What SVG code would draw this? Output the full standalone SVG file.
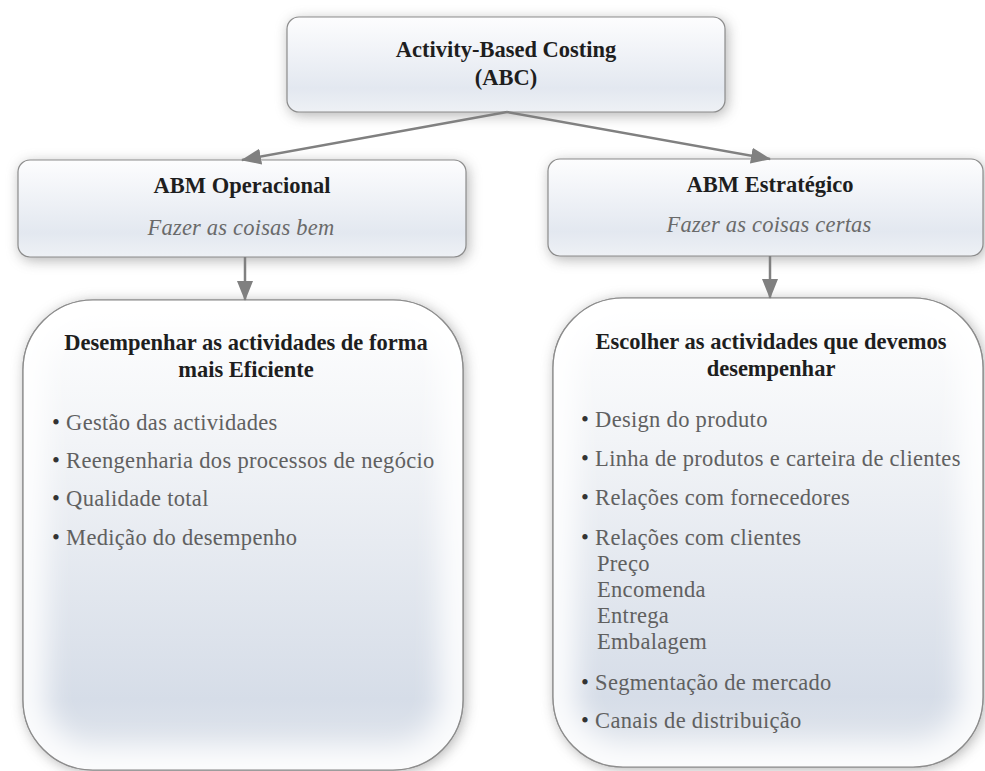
<svg xmlns="http://www.w3.org/2000/svg" width="985" height="771" viewBox="0 0 985 771">
<style>
  text { font-family: "Liberation Serif", "Times New Roman", serif; font-size: 22.5px; }
  .h { font-family: "Liberation Serif", "Times New Roman", serif; font-weight: bold; fill: #1e1e1e; text-anchor: middle; }
  .s { font-family: "Liberation Serif", "Times New Roman", serif; font-style: italic; fill: #6a6a6a; text-anchor: middle; letter-spacing: 0.2px; }
  .i { font-family: "Liberation Serif", "Times New Roman", serif; fill: #606060; letter-spacing: 0.3px; }
  .b { fill: #333333; }
  .box { stroke: #8c8c8c; stroke-width: 1.2; }
  .shadow { fill: #6f6f6f; opacity: 0.55; filter: url(#blur); }
  .glow { fill: none; stroke: #ffffff; stroke-width: 46; filter: url(#glowblur); opacity: 0.9; }
  .con { stroke: #808080; stroke-width: 2.5; fill: none; marker-end: url(#arrow); }
</style>
<defs>
  <filter id="blur" x="-20%" y="-20%" width="140%" height="140%">
    <feGaussianBlur stdDeviation="7"/>
  </filter>
  <filter id="glowblur" x="-20%" y="-20%" width="140%" height="140%">
    <feGaussianBlur stdDeviation="14"/>
  </filter>
  <linearGradient id="gSmall" x1="0" y1="0" x2="0" y2="1">
    <stop offset="0" stop-color="#fdfdfe"/>
    <stop offset="0.75" stop-color="#e3e8f0"/>
    <stop offset="1" stop-color="#eef1f5"/>
  </linearGradient>
  <linearGradient id="gBig" x1="0" y1="0" x2="0" y2="1">
    <stop offset="0" stop-color="#ffffff"/>
    <stop offset="0.3" stop-color="#f2f4f7"/>
    <stop offset="0.85" stop-color="#d6dde8"/>
    <stop offset="1" stop-color="#e4e8ee"/>
  </linearGradient>
  <clipPath id="cLL"><rect x="23" y="300" width="440" height="470" rx="70" ry="70"/></clipPath>
  <clipPath id="cLR"><rect x="553" y="298" width="430" height="469" rx="70" ry="70"/></clipPath>
  <marker id="arrow" markerUnits="userSpaceOnUse" markerWidth="20" markerHeight="16" viewBox="0 0 20 16" refX="19" refY="8" orient="auto">
    <path d="M0,0 L20,8 L0,16 z" fill="#808080"/>
  </marker>
</defs>

<rect width="985" height="771" fill="#ffffff"/>

<g id="node-abc">
  <rect class="shadow" x="289" y="20" width="438" height="95" rx="12"/>
  <rect class="box" x="287" y="17" width="438" height="95" rx="12" fill="url(#gSmall)"/>
  <text class="h" x="506" y="57">Activity-Based Costing</text>
  <text class="h" x="506" y="85">(ABC)</text>
</g>

<g id="node-abm-operacional">
  <rect class="shadow" x="20" y="163" width="448" height="97" rx="12"/>
  <rect class="box" x="18" y="160" width="448" height="97" rx="12" fill="url(#gSmall)"/>
  <text class="h" x="242" y="193">ABM Operacional</text>
  <text class="s" x="241" y="235">Fazer as coisas bem</text>
</g>

<g id="node-abm-estrategico">
  <rect class="shadow" x="550" y="162" width="435" height="97" rx="12"/>
  <rect class="box" x="548" y="159" width="435" height="97" rx="12" fill="url(#gSmall)"/>
  <text class="h" x="770" y="192">ABM Estratégico</text>
  <text class="s" x="769" y="232">Fazer as coisas certas</text>
</g>

<g id="node-eficiente">
  <rect class="shadow" x="25" y="302" width="440" height="470" rx="70"/>
  <rect class="box" x="23" y="300" width="440" height="470" rx="70" fill="url(#gBig)"/>
  <g clip-path="url(#cLL)">
    <rect class="glow" x="23" y="300" width="440" height="470" rx="70"/>
  </g>
  <rect x="23" y="300" width="440" height="470" rx="70" fill="none" stroke="#8c8c8c" stroke-width="1.2"/>
  <text class="h" x="246" y="350">Desempenhar as actividades de forma</text>
  <text class="h" x="246" y="377">mais Eficiente</text>
  <text class="i" x="52" y="430"><tspan class="b">•</tspan> Gestão das actividades</text>
  <text class="i" x="52" y="468"><tspan class="b">•</tspan> Reengenharia dos processos de negócio</text>
  <text class="i" x="52" y="506"><tspan class="b">•</tspan> Qualidade total</text>
  <text class="i" x="52" y="545"><tspan class="b">•</tspan> Medição do desempenho</text>
</g>

<g id="node-escolher">
  <rect class="shadow" x="555" y="300" width="430" height="469" rx="70"/>
  <rect class="box" x="553" y="298" width="430" height="469" rx="70" fill="url(#gBig)"/>
  <g clip-path="url(#cLR)">
    <rect class="glow" x="553" y="298" width="430" height="469" rx="70"/>
  </g>
  <rect x="553" y="298" width="430" height="469" rx="70" fill="none" stroke="#8c8c8c" stroke-width="1.2"/>
  <text class="h" x="771" y="349">Escolher as actividades que devemos</text>
  <text class="h" x="771" y="376">desempenhar</text>
  <text class="i" x="581" y="427"><tspan class="b">•</tspan> Design do produto</text>
  <text class="i" x="581" y="466"><tspan class="b">•</tspan> Linha de produtos e carteira de clientes</text>
  <text class="i" x="581" y="505"><tspan class="b">•</tspan> Relações com fornecedores</text>
  <text class="i" x="581" y="545"><tspan class="b">•</tspan> Relações com clientes</text>
  <text class="i" x="597" y="571">Preço</text>
  <text class="i" x="597" y="597">Encomenda</text>
  <text class="i" x="597" y="623">Entrega</text>
  <text class="i" x="597" y="649">Embalagem</text>
  <text class="i" x="581" y="690"><tspan class="b">•</tspan> Segmentação de mercado</text>
  <text class="i" x="581" y="728"><tspan class="b">•</tspan> Canais de distribuição</text>
</g>

<g id="connectors">
  <line class="con" x1="507" y1="112" x2="242" y2="160"/>
  <line class="con" x1="507" y1="112" x2="770" y2="159"/>
  <line class="con" x1="245" y1="257" x2="245" y2="300"/>
  <line class="con" x1="770" y1="256" x2="770" y2="298"/>
</g>
</svg>
